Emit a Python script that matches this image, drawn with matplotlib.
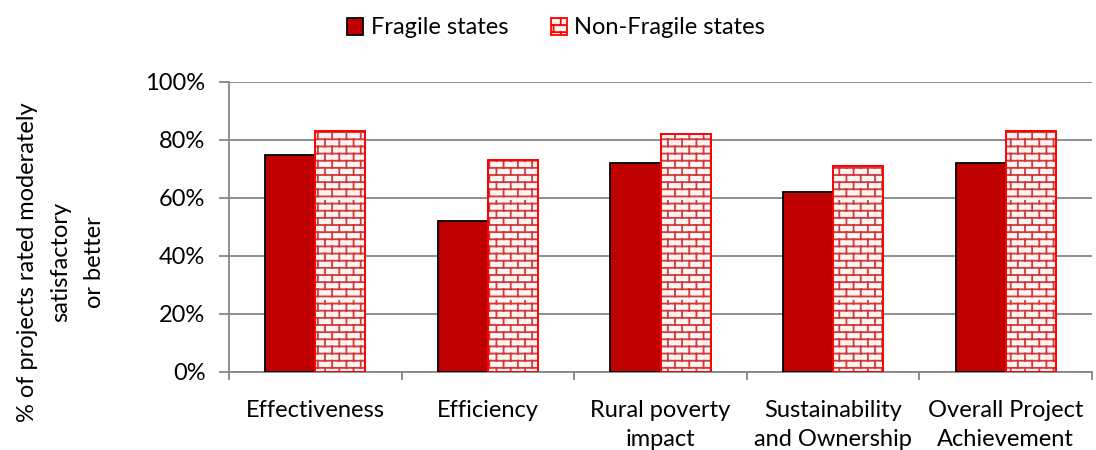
import warnings
import numpy as np
import matplotlib
matplotlib.use("Agg")
import matplotlib.pyplot as plt
import matplotlib.hatch as mhatch
from matplotlib.path import Path
from matplotlib.patches import Patch
from matplotlib.ticker import FixedLocator, PercentFormatter

warnings.filterwarnings("ignore")

categories = ["Effectiveness", "Efficiency", "Rural poverty\nimpact",
              "Sustainability\nand Ownership", "Overall Project\nAchievement"]
fragile = [75, 52, 72, 62, 72]
non_fragile = [83, 73, 82, 71, 83]
series_names = ["Fragile states", "Non-Fragile states"]


class BrickHatch(mhatch.HatchPatternBase):
    """Staggered brick pattern, selected with the 'b' hatch character."""
    rows = 14
    cols = 7

    def __init__(self, hatch, density):
        self.on = "b" in hatch
        self.num_vertices = self.rows * (2 + 2 * self.cols) if self.on else 0

    def set_vertices_and_codes(self, vertices, codes):
        h = 1.0 / self.rows
        w = 1.0 / self.cols
        i = 0
        for r in range(self.rows):
            y0 = (r + 0.5) * h
            vertices[i] = (0.0, y0)
            vertices[i + 1] = (1.0, y0)
            codes[i] = Path.MOVETO
            codes[i + 1] = Path.LINETO
            i += 2
            off = 0.25 * w if r % 2 == 0 else 0.75 * w
            for c in range(self.cols):
                x = off + c * w
                vertices[i] = (x, y0)
                vertices[i + 1] = (x, y0 + h)
                codes[i] = Path.MOVETO
                codes[i + 1] = Path.LINETO
                i += 2


mhatch._hatch_types.append(BrickHatch)

plt.rcParams["font.family"] = ["Lato", "DejaVu Sans"]
plt.rcParams["hatch.linewidth"] = 1.3

FS = 17
GREY = "#868686"

fig = plt.figure(figsize=(10.96, 4.5), dpi=100)
ax = fig.add_axes([229 / 1096, 1 - 372 / 450, (1092 - 229) / 1096, 290 / 450])

x = np.arange(len(categories))
bw = 0.29
dark_red = "#C00000"

ax.bar(x - bw / 2, fragile, bw, color=dark_red, edgecolor="black",
       linewidth=1.3, zorder=3)
ax.bar(x + bw / 2, non_fragile, bw, color="#FFF4F4", edgecolor="#D23A3A",
       linewidth=0, hatch="b", zorder=3)
ax.bar(x + bw / 2, non_fragile, bw, fill=False, edgecolor="#FF0000",
       linewidth=1.4, zorder=4)

ax.set_xlim(-0.5, len(categories) - 0.5)
ax.set_ylim(0, 100)
ax.yaxis.set_major_locator(FixedLocator([0, 20, 40, 60, 80, 100]))
ax.yaxis.set_major_formatter(PercentFormatter(decimals=0))
ax.set_xticks(x)
ax.set_xticklabels(categories, fontsize=FS, linespacing=1.5, va="top")
ax.set_xticks(np.arange(-0.5, len(categories)), minor=True)
ax.tick_params(axis="x", which="major", length=0, pad=20)
ax.tick_params(axis="x", which="minor", length=6, width=1.3, color=GREY)
ax.tick_params(axis="y", labelsize=FS, length=7, width=1.3, color=GREY, pad=10)

ax.grid(axis="y", color=GREY, linewidth=1.3, zorder=0)
ax.set_axisbelow(True)
for side in ("top", "right"):
    ax.spines[side].set_visible(False)
for side in ("left", "bottom"):
    ax.spines[side].set_color(GREY)
    ax.spines[side].set_linewidth(1.3)

fig.text(61 / 1096, 1 - 262 / 450,
         "% of projects rated moderately\nsatisfactory\nor better",
         rotation=90, ha="center", va="center", fontsize=FS,
         linespacing=1.75, multialignment="center")

handles = [Patch(facecolor=dark_red, edgecolor="black", linewidth=1.3),
           Patch(facecolor="#FFF4F4", edgecolor="#FF0000", linewidth=1.3, hatch="b")]
fig.legend(handles, series_names, loc="center", bbox_to_anchor=(556 / 1096, 1 - 28 / 450),
           ncol=2, frameon=False, fontsize=FS, handlelength=0.7, handleheight=0.7,
           handletextpad=0.3, columnspacing=1.8)

fig.savefig("out.png", dpi=100)
